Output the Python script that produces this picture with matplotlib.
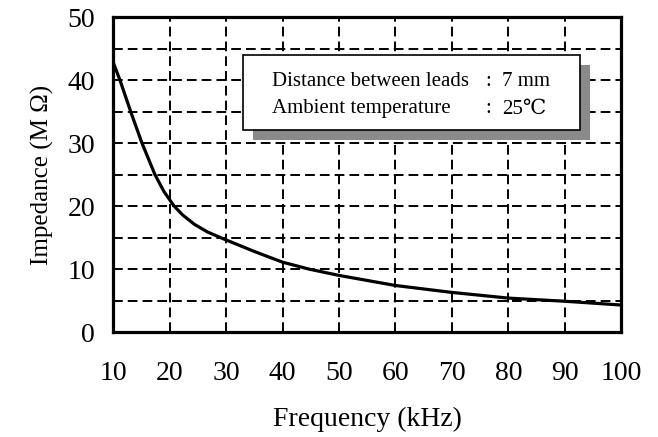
import numpy as np
import matplotlib
matplotlib.use("Agg")
import matplotlib.pyplot as plt
from matplotlib.patches import Rectangle

# values
freq_khz = [10, 11.2, 13.1, 15.1, 17.4, 19.0, 20.8, 22.3, 24.4, 26.7, 29.0,
            35, 40, 44.7, 50, 60, 70, 80, 90, 100]
impedance_mohm = [42.8, 40, 35, 30, 25, 22.3, 20, 18.6, 17.1, 15.9, 15.0,
                  12.8, 11.1, 10, 9.0, 7.4, 6.3, 5.4, 4.9, 4.3]

x_ticks = [10, 20, 30, 40, 50, 60, 70, 80, 90, 100]
y_ticks = [0, 10, 20, 30, 40, 50]
y_minor = [5, 15, 25, 35, 45]

note_keys = ["Distance between leads", "Ambient temperature"]
note_vals = ["7 mm", "25\u2103"]

plt.rcParams["font.family"] = ["Liberation Serif", "DejaVu Serif", "DejaVu Sans", "Noto Sans CJK JP"]

fig = plt.figure(figsize=(6.58, 4.37), dpi=100)
ax = fig.add_axes([0.172, 0.240, 0.772, 0.721])

ax.plot(freq_khz, impedance_mohm, color="black", lw=2.3, solid_capstyle="round",
        solid_joinstyle="round", zorder=3)

ax.set_xlim(10, 100)
ax.set_ylim(0, 50)
ax.set_xticks(x_ticks)
ax.set_yticks(y_ticks)
ax.set_yticks(y_minor, minor=True)
ax.tick_params(axis="both", which="both", length=0, labelsize=20)
ax.tick_params(axis="x", pad=21)
ax.tick_params(axis="y", pad=13)
ax.grid(True, which="both", color="black", lw=1.4, linestyle=(0, (5, 2.6)))
ax.set_axisbelow(True)

for sp in ax.spines.values():
    sp.set_linewidth(2.3)

ax.set_xlabel("Frequency (kHz)", fontsize=20, labelpad=15)
ax.set_ylabel("Impedance (M \u03a9)", fontsize=18, labelpad=10)

# condition box with grey drop shadow
shadow = Rectangle((34.8, 30.5), 59.7, 11.9, facecolor="#8a8a8a", edgecolor="none", zorder=4)
box = Rectangle((33.0, 32.1), 59.7, 11.9, facecolor="white", edgecolor="black", lw=1.2, zorder=5)
ax.add_patch(shadow)
ax.add_patch(box)

for i, (k, v) in enumerate(zip(note_keys, note_vals)):
    yy = 39.0 - 4.3 * i
    ax.text(38.2, yy, k, fontsize=15, va="baseline", ha="left", zorder=6)
    ax.text(75.9, yy, ":", fontsize=15, va="baseline", ha="left", zorder=6)
    ax.text(78.9, yy, v, fontsize=15, va="baseline", ha="left", zorder=6)

fig.savefig("out.png", dpi=100)
